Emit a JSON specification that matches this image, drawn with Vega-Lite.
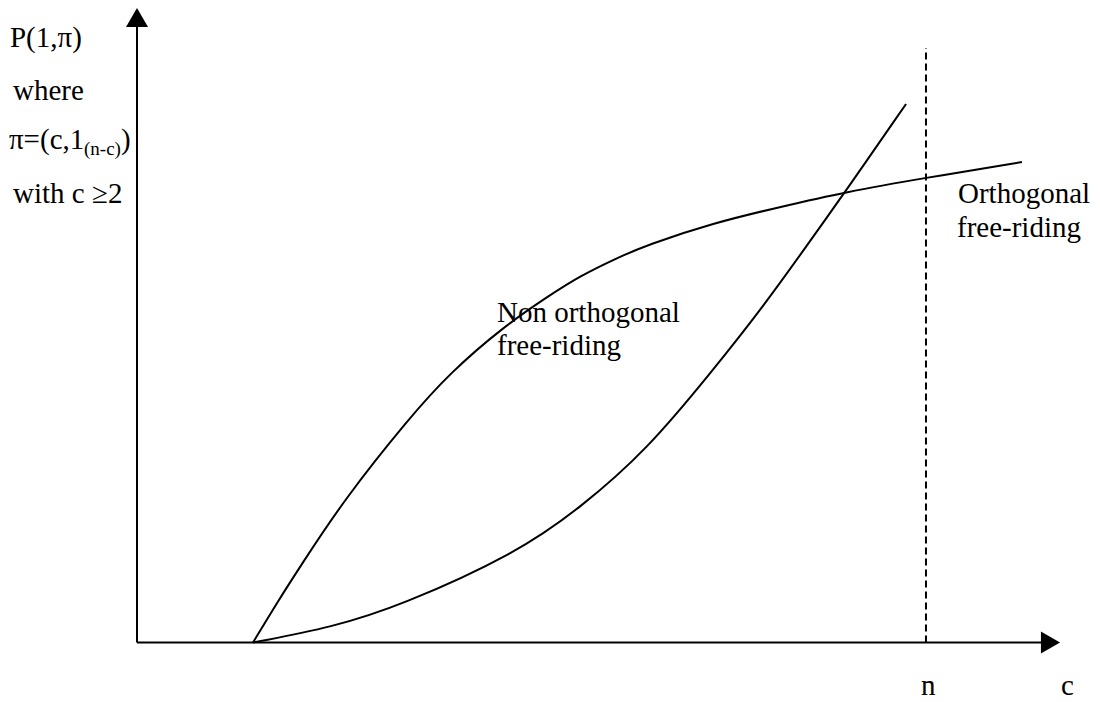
{
  "$schema": "https://vega.github.io/schema/vega-lite/v6.json",
  "width": 1100,
  "height": 702,
  "padding": 0,
  "autosize": {"type": "none"},
  "background": "white",
  "config": {"view": {"stroke": null}},
  "datasets": {
    "curves": [
      {"curve": "concave", "c": 12.57, "p": 0},
      {"curve": "concave", "c": 15.49, "p": 7.02},
      {"curve": "concave", "c": 17.66, "p": 11.91},
      {"curve": "concave", "c": 22.32, "p": 22.32},
      {"curve": "concave", "c": 29.58, "p": 35.57},
      {"curve": "concave", "c": 33.91, "p": 42.51},
      {"curve": "concave", "c": 39.65, "p": 49.76},
      {"curve": "concave", "c": 44.75, "p": 54.81},
      {"curve": "concave", "c": 48.0, "p": 57.81},
      {"curve": "concave", "c": 52.0, "p": 60.65},
      {"curve": "concave", "c": 55.25, "p": 62.7},
      {"curve": "concave", "c": 62.41, "p": 66.17},
      {"curve": "concave", "c": 69.66, "p": 68.69},
      {"curve": "concave", "c": 76.71, "p": 71.06},
      {"curve": "concave", "c": 85.37, "p": 73.27},
      {"curve": "concave", "c": 95.88, "p": 75.79},
      {"curve": "convex", "c": 12.57, "p": 0},
      {"curve": "convex", "c": 21.24, "p": 2.44},
      {"curve": "convex", "c": 28.49, "p": 5.76},
      {"curve": "convex", "c": 41.17, "p": 14.12},
      {"curve": "convex", "c": 48.0, "p": 21.21},
      {"curve": "convex", "c": 55.25, "p": 30.36},
      {"curve": "convex", "c": 62.41, "p": 42.98},
      {"curve": "convex", "c": 67.82, "p": 52.92},
      {"curve": "convex", "c": 73.24, "p": 63.96},
      {"curve": "convex", "c": 76.71, "p": 71.06},
      {"curve": "convex", "c": 83.32, "p": 84.94}
    ],
    "axes": [
      {"c": 0, "p": 0, "c2": 0, "p2": 98.19},
      {"c": 0, "p": 0, "c2": 98.7, "p2": 0}
    ],
    "nline": [
      {"c": 85.48, "p": 0, "c2": 85.48, "p2": 93.77}
    ],
    "arrows": [
      {"dir": "up", "c": 0, "p": 98.58},
      {"dir": "right", "c": 98.97, "p": 0}
    ],
    "labels": [
      {"label": "P(1,π)", "c": -13.76, "p": 93.93},
      {"label": "where", "c": -13.43, "p": 85.57},
      {"label": "π=(c,1", "c": -13.87, "p": 77.84},
      {"label": ")", "c": -1.73, "p": 77.84},
      {"label": "with c ≥2", "c": -13.43, "p": 69.32},
      {"label": "Non orthogonal", "c": 39.0, "p": 50.55},
      {"label": "free-riding", "c": 39.0, "p": 45.35},
      {"label": "Orthogonal", "c": 88.95, "p": 69.32},
      {"label": "free-riding", "c": 88.84, "p": 63.96},
      {"label": "n", "c": 84.94, "p": -8.28},
      {"label": "c", "c": 100.11, "p": -8.28}
    ],
    "sublabels": [
      {"label": "(n-c)", "c": -5.74, "p": 76.9}
    ]
  },
  "encoding": {
    "x": {"field": "c", "type": "quantitative", "axis": null, "scale": {"domain": [-14.843, 104.334], "nice": false, "zero": false}},
    "y": {"field": "p", "type": "quantitative", "axis": null, "scale": {"domain": [-9.385, 101.34], "nice": false, "zero": false}}
  },
  "layer": [
    {
      "data": {"name": "curves"},
      "mark": {"type": "line", "interpolate": "basis", "color": "black", "strokeWidth": 2},
      "encoding": {"detail": {"field": "curve", "type": "nominal"}}
    },
    {
      "data": {"name": "axes"},
      "mark": {"type": "rule", "color": "black", "strokeWidth": 2},
      "encoding": {
        "x2": {"field": "c2"},
        "y2": {"field": "p2"}
      }
    },
    {
      "data": {"name": "nline"},
      "mark": {"type": "rule", "color": "black", "strokeWidth": 2, "strokeDash": [7, 4]},
      "encoding": {
        "x2": {"field": "c2"},
        "y2": {"field": "p2"}
      }
    },
    {
      "data": {"name": "arrows"},
      "mark": {"type": "point", "filled": true, "color": "black", "opacity": 1, "size": 484, "strokeWidth": 0},
      "encoding": {
        "shape": {"field": "dir", "type": "nominal", "legend": null,
          "scale": {"domain": ["up", "right"], "range": ["M0,-0.87L1,0.87L-1,0.87Z", "M0.87,0L-0.87,1L-0.87,-1Z"]}}
      }
    },
    {
      "data": {"name": "labels"},
      "mark": {"type": "text", "align": "left", "baseline": "alphabetic", "font": "Liberation Serif", "fontSize": 29, "color": "black"},
      "encoding": {"text": {"field": "label"}}
    },
    {
      "data": {"name": "sublabels"},
      "mark": {"type": "text", "align": "left", "baseline": "alphabetic", "font": "Liberation Serif", "fontSize": 19, "color": "black"},
      "encoding": {"text": {"field": "label"}}
    }
  ]
}
